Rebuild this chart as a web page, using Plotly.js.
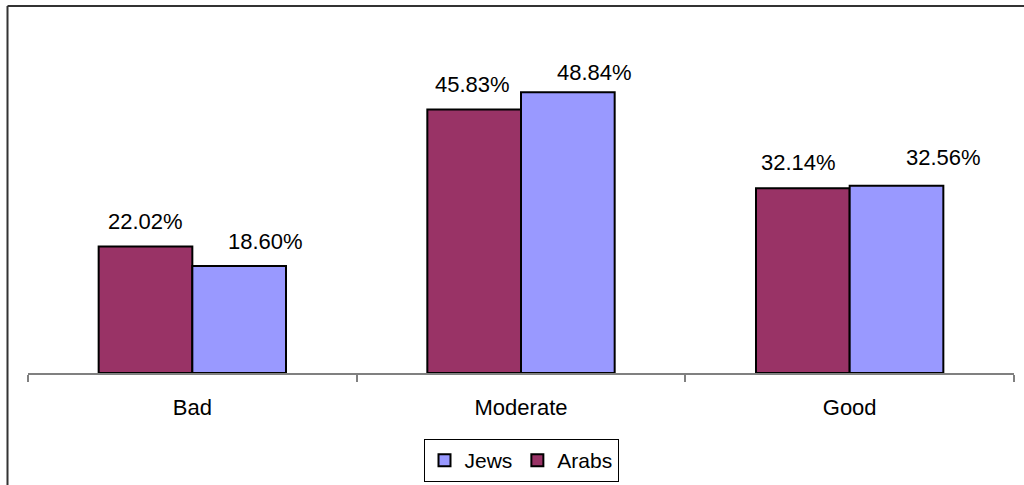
<!DOCTYPE html>
<html>
<head>
<meta charset="utf-8">
<script src="https://cdn.plot.ly/plotly-3.0.1.min.js"></script>
<style>
html,body{margin:0;padding:0;background:#fff;}
#chart{width:1024px;height:485px;}
</style>
</head>
<body>
<div id="chart"></div>
<script>
const categories = ["Bad", "Moderate", "Good"];
const arabs = [22.02, 45.83, 32.14];
const jews = [18.60, 48.84, 32.56];
const arabsLabels = ["22.02%", "45.83%", "32.14%"];
const jewsLabels = ["18.60%", "48.84%", "32.56%"];

const W = 1024, H = 485;
const M = {l: 28, r: 10, t: 28, b: 112};
const pw = W - M.l - M.r, ph = H - M.t - M.b;
const px2x = p => (p - M.l) / pw;
const py2y = p => (H - M.b - p) / ph;

const font = {family: "Liberation Sans, Arial, sans-serif", size: 22, color: "#000"};
const legendFont = {family: "Liberation Sans, Arial, sans-serif", size: 21, color: "#000"};

const traces = [
  {type: "bar", name: "Arabs", x: categories, y: arabs,
   marker: {color: "#993366", line: {color: "#000", width: 2}}, hoverinfo: "none"},
  {type: "bar", name: "Jews", x: categories, y: jews,
   marker: {color: "#9999FF", line: {color: "#000", width: 2}}, hoverinfo: "none"}
];

const annXShift = {arabs: [0, -2, -4], jews: [26, 26, 47]};
const annYShift = {arabs: [25, 25, 26], jews: [25, 20, 28]};
const annotations = [];
categories.forEach((c, i) => {
  annotations.push({x: i, y: arabs[i], xref: "x", yref: "y", text: arabsLabels[i],
    showarrow: false, font: font, xshift: -47 + annXShift.arabs[i], yshift: annYShift.arabs[i]});
  annotations.push({x: i, y: jews[i], xref: "x", yref: "y", text: jewsLabels[i],
    showarrow: false, font: font, xshift: 47 + annXShift.jews[i], yshift: annYShift.jews[i]});
});

const shapes = [
  {type: "line", xref: "paper", yref: "paper", x0: px2x(7.5), x1: px2x(1030), y0: py2y(6), y1: py2y(6),
   line: {color: "#333", width: 2}},
  {type: "line", xref: "paper", yref: "paper", x0: px2x(7.5), x1: px2x(7.5), y0: py2y(6), y1: py2y(495),
   line: {color: "#333", width: 2}}
];

const layout = {
  width: W, height: H,
  margin: M,
  paper_bgcolor: "#fff", plot_bgcolor: "#fff",
  font: font,
  barmode: "group",
  bargap: 0.43,
  bargroupgap: 0,
  showlegend: true,
  legend: {
    orientation: "h", x: 0.5, xanchor: "center",
    yref: "container", y: 3 / H, yanchor: "bottom",
    traceorder: "reversed", bordercolor: "#000", borderwidth: 1, bgcolor: "#fff",
    font: legendFont, itemwidth: 30
  },
  xaxis: {
    range: [-0.5, 2.5], showline: true, linecolor: "#808080", linewidth: 2,
    ticks: "outside", tickson: "boundaries", ticklen: 7, tickcolor: "#808080", tickwidth: 2,
    showgrid: false, zeroline: false, tickfont: font, ticklabelstandoff: 14, automargin: false
  },
  yaxis: {
    range: [0, 60], visible: false, showgrid: false, zeroline: false, automargin: false
  },
  annotations: annotations,
  shapes: shapes
};

Plotly.newPlot("chart", traces, layout, {staticPlot: true, displayModeBar: false});
</script>
</body>
</html>
